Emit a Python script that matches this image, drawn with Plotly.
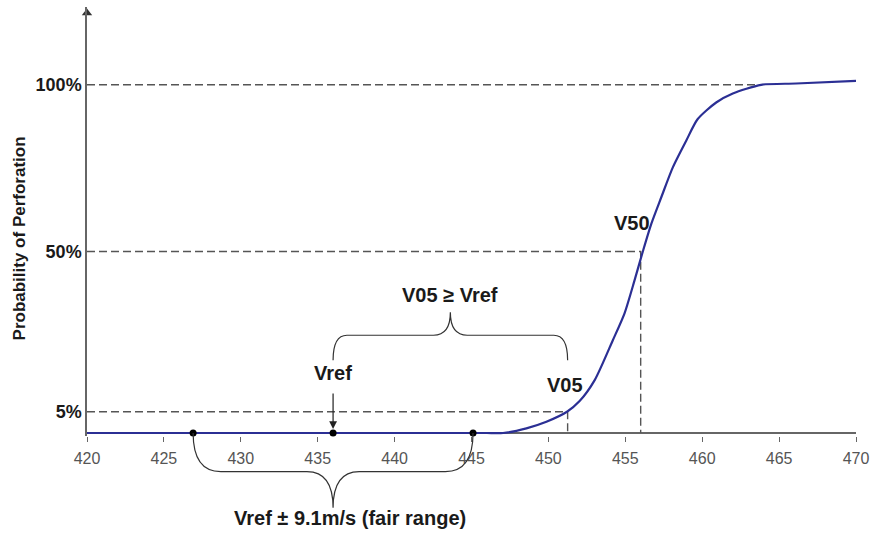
import plotly.graph_objects as go

# ---------------- data ----------------
speed = [420, 430, 440, 445, 446, 447.05, 448.57, 449.87, 451.21, 452.03, 453.01,
         454.19, 454.95, 455.60, 456.14, 456.69, 457.34, 458.09, 458.96, 459.71,
         460.91, 461.99, 463.83, 466.10, 470.0]
# height of the curve on the (non-linear) probability axis
height = [0, 0, 0, 0, 0, 0, 4.7, 11.3, 21.3, 32, 53, 93, 120, 153, 182, 209.7,
          236.3, 266.3, 293, 314.7, 331.3, 340.3, 349, 350.3, 353]

x_ticks = [420, 425, 430, 435, 440, 445, 450, 455, 460, 465, 470]
y_tick_labels = ["5%", "50%", "100%"]
y_tick_heights = [21.3, 182, 349]

v_ref = 436.0
fair_half = 9.1
v05 = 451.25
v50 = 456.0
v100 = 463.85

# ---------------- style constants ----------------
FONT = "Liberation Sans, Arial, sans-serif"
TXT = "#1a1a1a"
AX = "#666666"
DASH = "#555555"
BLUE = "#2b2f94"
y_range = [-3, 427]


def paper(d):
    return (d - y_range[0]) / (y_range[1] - y_range[0])


fig = go.Figure()

h5, h50, h100 = y_tick_heights
dash_style = dict(color=DASH, width=1.4, dash="8px,4px")
# reference dashed lines
fig.add_trace(go.Scatter(x=[x_ticks[0], v100], y=[h100, h100], mode="lines",
                         line=dash_style, hoverinfo="skip"))
fig.add_trace(go.Scatter(x=[x_ticks[0], v50, v50], y=[h50, h50, 0], mode="lines",
                         line=dash_style, hoverinfo="skip"))
fig.add_trace(go.Scatter(x=[x_ticks[0], v05, v05], y=[h5, h5, 0], mode="lines",
                         line=dash_style, hoverinfo="skip"))

# probability curve
fig.add_trace(go.Scatter(x=speed, y=height, mode="lines",
                         line=dict(color=BLUE, width=2.2, shape="spline", smoothing=0.7),
                         hoverinfo="skip"))

# points: lower bound, Vref, upper bound
fig.add_trace(go.Scatter(x=[v_ref - fair_half, v_ref, v_ref + fair_half], y=[0, 0, 0],
                         mode="markers", marker=dict(color="black", size=7),
                         cliponaxis=False, hoverinfo="skip"))

# y-axis arrow head
fig.add_trace(go.Scatter(x=[x_ticks[0]], y=[y_range[1] - 6], mode="markers",
                         marker=dict(symbol="triangle-up", size=9, color="#333333"),
                         cliponaxis=False, hoverinfo="skip"))

# ---------------- braces ----------------
def brace_up(x0, x1, y_end, y_flat, y_tip, r, r2):
    xm = (x0 + x1) / 2
    return (f"M {x0},{y_end} Q {x0},{y_flat} {x0 + r},{y_flat} "
            f"L {xm - r2},{y_flat} Q {xm},{y_flat} {xm},{y_tip} "
            f"Q {xm},{y_flat} {xm + r2},{y_flat} "
            f"L {x1 - r},{y_flat} Q {x1},{y_flat} {x1},{y_end}")


brace_line = dict(color="#333333", width=1.2)
# upper brace: Vref .. V05
fig.add_shape(type="path", xref="x", yref="y",
              path=brace_up(v_ref, v05, 73, 98, 121, 0.9, 1.1), line=brace_line)
# lower brace: fair range
fig.add_shape(type="path", xref="x", yref="paper",
              path=brace_up(v_ref - fair_half, v_ref + fair_half,
                            paper(0), paper(-38.7), paper(-75), 1.8, 1.7),
              line=brace_line)

# ---------------- annotations ----------------
ann_font = dict(family=FONT, size=20, color=TXT, weight="bold")
annotations = [
    dict(x=(v_ref + v05) / 2, y=138, xref="x", yref="y", text="V05 ≥ Vref",
         showarrow=False, font=ann_font),
    dict(x=v_ref, y=60, xref="x", yref="y", text="Vref", showarrow=False, font=ann_font),
    dict(x=v05 - 0.2, y=48, xref="x", yref="y", text="V05", showarrow=False, font=ann_font),
    dict(x=v50 - 0.55, y=211, xref="x", yref="y", text="V50", showarrow=False, font=ann_font),
    dict(x=v_ref + 1.1, y=paper(-98), xref="x", yref="paper", xanchor="center",
         text="Vref ± 9.1m/s (fair range)", showarrow=False, font=ann_font),
    # arrow from Vref label to the point
    dict(x=v_ref, y=4, xref="x", yref="y", text="", showarrow=True,
         ax=0, ay=-37, arrowhead=2, arrowsize=1.3, arrowwidth=1.2,
         arrowcolor="#222222"),
    # y-axis title
    dict(x=-68 / 769, y=195, xref="paper", yref="y", text="Probability of Perforation",
         textangle=-90, showarrow=False, xanchor="center", yanchor="middle",
         font=dict(family=FONT, size=17, color=TXT, weight="bold")),
]

fig.update_layout(
    width=875, height=546,
    margin=dict(l=87, r=19, t=7, b=110),
    paper_bgcolor="white", plot_bgcolor="white",
    showlegend=False,
    annotations=annotations,
    font=dict(family=FONT),
    xaxis=dict(range=[x_ticks[0], x_ticks[-1]], tickvals=x_ticks,
               ticks="outside", ticklen=5, tickcolor=AX, tickwidth=1.2,
               ticklabelstandoff=3,
               showline=False, showgrid=False, zeroline=False,
               tickfont=dict(family=FONT, size=16, color="#555555")),
    yaxis=dict(range=y_range, tickvals=y_tick_heights, ticktext=y_tick_labels,
               ticks="", showline=True, linecolor=AX, linewidth=1.5,
               showgrid=False, zeroline=True, zerolinecolor=AX, zerolinewidth=1.5,
               tickfont=dict(family=FONT, size=18, color=TXT, weight="bold")),
)

fig.write_html("out.html")
